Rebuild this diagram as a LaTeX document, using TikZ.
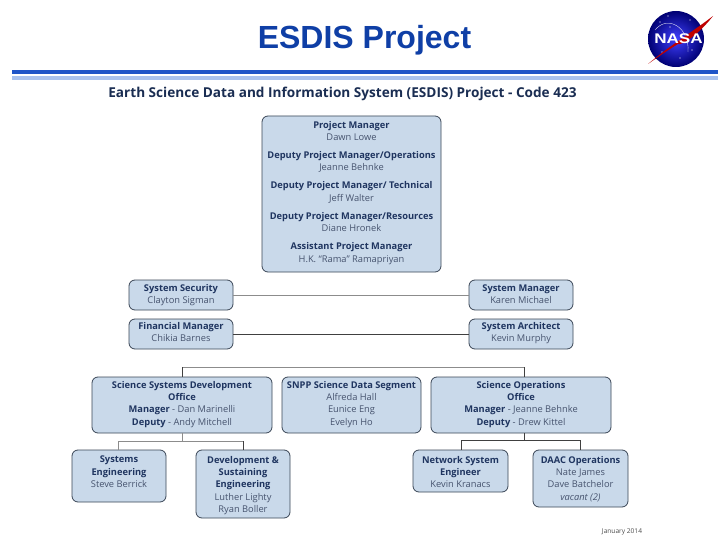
\documentclass[tikz,border=0pt]{standalone}
\usepackage{fontspec}
\setmainfont{Open Sans}
\newfontfamily\titlefont{Liberation Sans}
\definecolor{boxfill}{HTML}{C9D9EA}
\definecolor{boxedge}{HTML}{3A4656}
\definecolor{boldtxt}{HTML}{1F3560}
\definecolor{plaintxt}{HTML}{46536E}
\definecolor{titleblue}{HTML}{0F3FA6}
\definecolor{ruledark}{HTML}{1F55C8}
\definecolor{rulelight}{HTML}{A9C2EE}
\newcommand{\bb}[1]{\textbf{\textcolor{boldtxt}{#1}}}
\newcommand{\orgbox}[7]{%
  \node[orgshape,minimum width=#3-#2,minimum height=#5-#4] (#1) at ({(#2+#3)/2},{(#4+#5)/2}) {};
  \node[orgtext,anchor=north] (#1-t) at ($(#1.north)+(0,#6)$) {#7};
}
\usetikzlibrary{calc}
\tikzset{
  orgshape/.style={draw=boxedge,line width=0.8pt,fill=boxfill,rounded corners=6pt,inner sep=0pt,outer sep=0pt},
  orgtext/.style={align=center,font=\fontsize{9.3}{12.4}\selectfont,text=plaintxt,inner sep=0pt,outer ysep=0pt,yshift=-5pt},
  linkdark/.style={draw=black!75,line width=0.7pt},
  linkgrey/.style={draw=black!45,line width=0.8pt},
}
\begin{document}
\begin{tikzpicture}[x=1pt,y=-1pt]
\useasboundingbox[fill=white] (0,0) rectangle (720,540);
% header
\node[font=\titlefont\bfseries\fontsize{32}{32}\selectfont,text=titleblue,inner sep=0pt] (title) at (364.5,40) {ESDIS Project};
\fill[ruledark] (12,70) rectangle (718,74);
\fill[rulelight] (12,76) rectangle (718,80);
\node[font=\bfseries\fontsize{13.6}{14}\selectfont,text=boldtxt!85!black,inner sep=0pt] (head) at (342.5,94) {Earth Science Data and Information System (ESDIS) Project - Code 423};
% logo
\shade[inner color=blue!75!white,outer color=blue!45!black] (676,39) circle (28);
\draw[white,line width=0.3pt] (655,30) .. controls (668,14) and (690,28) .. (688,52);
\foreach \a/\b in {660/22,668/16,690/20,697/30,662/52,680/58,692/50,670/27}{\fill[white] (\a,\b) circle (0.6);}
\fill[red!75!black] (648,64) .. controls (672,44) and (695,30) .. (713,16) .. controls (700,33) and (682,46) .. (678,44) .. controls (668,50) and (658,57) .. cycle;
\node[font=\titlefont\bfseries\fontsize{14}{14}\selectfont,text=white,inner sep=0pt,xscale=1.22] (nasa) at (678.5,38.5) {NASA};
% boxes
\orgbox{pm}{262}{441}{116}{272}{0}{\bb{Project Manager}\\Dawn Lowe\\[5.6pt]\bb{Deputy Project Manager/Operations}\\Jeanne Behnke\\[5.6pt]\bb{Deputy Project Manager/ Technical}\\Jeff Walter\\[5.6pt]\bb{Deputy Project Manager/Resources}\\Diane Hronek\\[5.6pt]\bb{Assistant Project Manager}\\H.K. “Rama” Ramapriyan}
\orgbox{ssec}{129}{233}{280}{310}{-0.5}{\bb{System Security}\\Clayton Sigman}
\orgbox{smgr}{469}{573}{280}{310}{-0.5}{\bb{System Manager}\\Karen Michael}
\orgbox{fin}{129}{233}{319}{349}{-1.5}{\bb{Financial Manager}\\Chikia Barnes}
\orgbox{arch}{469}{573}{319}{349}{-1.5}{\bb{System Architect}\\Kevin Murphy}
\orgbox{ssdo}{92}{272}{377}{433}{-1}{\bb{Science Systems Development}\\\bb{Office}\\\bb{Manager} - Dan Marinelli\\\bb{Deputy} - Andy Mitchell}
\orgbox{snpp}{282}{421}{377}{433}{-1}{\bb{SNPP Science Data Segment}\\Alfreda Hall\\Eunice Eng\\Evelyn Ho}
\orgbox{sops}{431}{611}{377}{433}{-1}{\bb{Science Operations}\\\bb{Office}\\\bb{Manager} - Jeanne Behnke\\\bb{Deputy} - Drew Kittel}
\orgbox{seng}{72}{166}{450}{502}{1}{\bb{Systems}\\\bb{Engineering}\\Steve Berrick}
\orgbox{deve}{196}{290}{450}{518}{1}{\bb{Development \&}\\\bb{Sustaining}\\\bb{Engineering}\\Luther Lighty\\Ryan Boller}
\orgbox{nete}{413}{508}{450}{492}{1}{\bb{Network System}\\\bb{Engineer}\\Kevin Kranacs}
\orgbox{daac}{533}{628}{450}{507}{1}{\bb{DAAC Operations}\\Nate James\\Dave Batchelor\\\textit{vacant (2)}}
% connectors
\draw[linkgrey] (ssec.east) -- (smgr.west);
\draw[linkdark] (fin.east) -- (arch.west);
\coordinate (bl) at (182,367); \coordinate (br) at (524,367);
\draw[linkgrey] (bl) -- (br);
\draw[linkdark] (bl) -- (ssdo.north);
\draw[linkdark] (br) -- (br |- sops.north);
\coordinate (al) at (118,441); \coordinate (am) at (182,441); \coordinate (ar) at (243,441);
\draw[linkgrey] (ssdo.south) -- (am);
\draw[linkgrey] (al) -- (ar);
\draw[linkgrey] (al) -- (al |- seng.north);
\draw[linkdark] (ar) -- (ar |- deve.north);
\coordinate (cl) at (461,440); \coordinate (cm) at (524,440); \coordinate (cr) at (580,440);
\draw[linkdark] (cm |- sops.south) -- (cm);
\draw[linkdark] (cl) -- (cr);
\draw[linkdark] (cl) -- (cl |- nete.north);
\draw[linkdark] (cr) -- (cr |- daac.north);
\node[font=\fontsize{6.6}{7}\selectfont,text=black!70,inner sep=0pt] (date) at (622,532) {January 2014};
\end{tikzpicture}
\end{document}
